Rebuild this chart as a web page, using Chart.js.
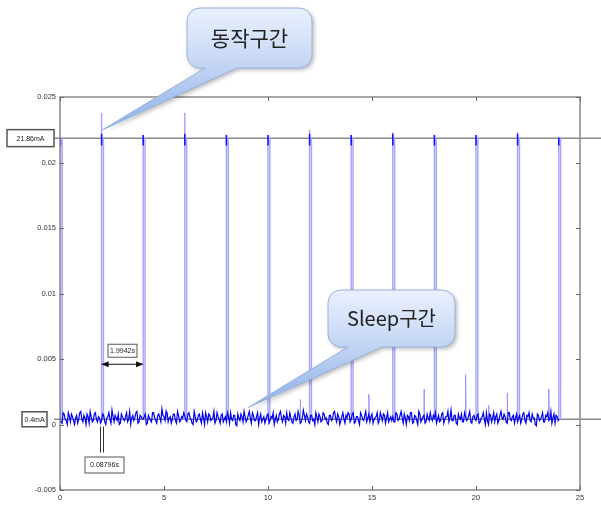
<!DOCTYPE html>
<html>
<head>
<meta charset="utf-8">
<script src="https://cdn.jsdelivr.net/npm/chart.js@4.4.1/dist/chart.umd.min.js"></script>
<style>
  html, body { margin: 0; padding: 0; background: #fff; }
  canvas { display: block; }
</style>
</head>
<body>
<canvas id="c" width="601" height="506"></canvas>
<script>
// 동작 구간 (spike) 시각, 피크 전류 (mA)
const spikeTimes = [0.02, 2, 4, 6, 8, 10, 12, 14, 16, 18, 20, 22, 23.98];
const spikePeaks = [21.9, 23.8, 22.1, 23.8, 22.1, 22.1, 22.5, 22.1, 22.3, 22.1, 22.1, 22.3, 21.9];
const activeLevel = 21.86;   // mA
const sleepLevel = 0.4;      // mA
const activeWidth = 0.08796; // s
const period = 1.9942;       // s

// sleep 구간 잡음 (mA), 0.1s 간격 (A) + 0.05s 어긋난 샘플 (B)
const noiseStep = 0.1;
const sleepNoiseA = [
  0.5,0.1,0.8,0.3,0.9,0.2,0.6,0.0,0.7,0.4,1.0,0.2,0.5,0.8,0.1,0.6,0.3,0.9,0.2,0.5,
  0.3,0.7,0.0,0.6,0.4,1.1,0.2,0.5,0.8,0.1,0.6,0.3,0.9,0.4,0.0,0.7,0.5,1.0,0.2,0.6,
  0.4,0.8,0.1,0.5,0.2,0.9,0.3,0.7,0.5,1.2,0.6,1.0,0.2,0.6,0.4,0.8,0.1,0.7,0.3,0.5,
  0.7,0.2,0.9,0.4,0.0,0.6,0.3,0.8,0.1,0.5,0.9,0.2,0.7,0.4,1.0,0.3,0.6,0.1,0.8,0.4,
  0.2,0.6,0.9,0.3,0.7,-0.1,0.5,0.8,0.2,0.6,0.4,1.0,0.1,0.7,0.3,0.9,0.5,0.2,0.6,0.4,
  0.8,0.3,0.5,0.0,0.7,0.4,1.0,0.2,0.6,0.9,0.3,0.5,0.1,0.8,0.4,0.7,0.2,1.1,0.3,0.6,
  0.1,0.7,0.4,0.9,0.2,0.6,0.3,0.8,0.5,0.0,0.7,0.4,1.0,0.2,0.6,0.3,0.9,0.1,0.5,0.8,
  0.4,0.9,0.2,0.6,0.0,0.7,0.3,1.0,0.5,0.2,0.8,0.4,0.6,0.1,0.9,0.3,0.7,0.5,0.2,0.6,
  0.6,0.2,0.8,0.4,1.0,0.1,0.5,0.7,0.3,0.9,0.2,0.6,0.0,0.8,0.4,0.7,0.2,0.5,0.9,0.3,
  0.5,0.1,0.7,0.3,0.9,0.4,0.6,0.2,1.1,0.3,0.7,0.0,0.5,0.8,0.2,0.6,0.4,1.0,0.1,0.7,
  0.3,0.8,0.2,0.6,0.4,0.9,0.0,0.7,0.5,0.2,0.8,0.3,1.0,0.4,0.6,0.1,0.9,0.3,0.7,0.5,
  0.2,0.7,0.4,0.9,0.1,0.6,0.3,0.8,0.5,-0.1,0.7,0.4,0.9,0.2,0.6,0.3,1.0,0.5,0.1,0.6,
  0.4
];
const sleepNoiseB = [
  0.2,0.9,0.4,0.0,0.6,0.8,0.3,0.5,0.1,0.9,0.4,0.7,0.0,0.6,1.0,0.2,0.8,0.4,0.6,0.1,
  0.8,0.2,0.5,0.9,0.1,0.6,0.7,0.3,0.0,0.8,0.4,0.6,0.2,1.0,0.5,0.3,0.9,0.1,0.7,0.4,
  0.6,0.0,0.7,0.3,0.9,0.5,0.1,0.8,0.2,0.7,0.3,0.9,0.5,0.1,0.8,0.3,1.0,0.2,0.6,0.9,
  0.3,0.8,0.5,0.1,1.0,0.2,0.7,0.4,0.9,0.0,0.6,0.8,0.3,0.5,0.1,0.9,0.4,0.7,0.2,0.6,
  0.9,0.1,0.4,0.7,0.0,0.8,0.3,0.6,1.0,0.2,0.7,0.5,0.9,0.3,0.6,0.0,0.8,0.4,0.1,0.7,
  0.1,0.6,0.9,0.4,0.2,0.8,0.5,0.7,0.1,0.4,0.9,0.2,0.6,0.3,1.0,0.1,0.5,0.7,0.8,0.2,
  0.7,0.3,0.0,0.6,0.8,0.2,0.9,0.4,0.1,0.7,0.3,0.9,0.5,0.8,0.0,0.6,0.4,0.7,0.9,0.2,
  0.8,0.1,0.6,0.3,0.9,0.4,0.7,0.2,0.8,0.6,0.1,0.5,0.9,0.3,0.6,0.8,0.1,0.9,0.4,0.3,
  0.2,0.9,0.3,0.7,0.5,0.8,0.0,0.6,0.9,0.1,0.7,0.3,1.0,0.2,0.6,0.1,0.8,0.3,0.5,0.7,
  0.9,0.4,0.2,0.8,0.1,0.6,1.0,0.5,0.3,0.7,0.1,0.8,0.4,0.2,0.9,0.3,0.7,0.2,0.6,0.4,
  0.7,0.1,0.5,0.9,0.0,0.3,0.8,0.2,0.9,0.6,0.1,0.7,0.5,0.8,0.2,0.9,0.4,0.6,0.1,0.8,
  0.5,0.1,0.8,0.3,0.7,0.9,0.2,0.5,0.0,0.8,0.3,0.6,0.2,0.7,0.9,0.4,0.1,0.8,0.7,0.3
];

// sleep 구간 작은 glitch
const glitchTimes = [5.1, 11.55, 14.85, 17.5, 19.5, 20.6, 21.5, 23.5];
const glitchPeaks = [1.2, 1.9, 2.3, 2.7, 3.8, 1.45, 2.4, 2.7];

const mA = (v) => v / 1000;

const noiseData = [];
sleepNoiseA.forEach((v, i) => {
  noiseData.push({ x: +(i * noiseStep).toFixed(2), y: mA(v) });
  if (i < sleepNoiseB.length) noiseData.push({ x: +(i * noiseStep + noiseStep / 2).toFixed(2), y: mA(sleepNoiseB[i]) });
});

const spikeData = [];
const coreData = [];
spikeTimes.forEach((t, i) => {
  spikeData.push({ x: t, y: mA(sleepLevel) }, { x: t, y: mA(spikePeaks[i]) }, { x: t, y: mA(activeLevel) },
    { x: t + activeWidth, y: mA(activeLevel) }, { x: t + activeWidth, y: mA(sleepLevel) },
    { x: t + activeWidth + 0.01, y: null });
  coreData.push({ x: t, y: mA(21.3) }, { x: t, y: mA(Math.min(spikePeaks[i], 22.2)) }, { x: t + 0.01, y: null });
});

const glitchData = [];
glitchTimes.forEach((t, i) => {
  glitchData.push({ x: t, y: mA(sleepLevel) }, { x: t, y: mA(glitchPeaks[i]) },
    { x: t + 0.02, y: mA(sleepLevel) }, { x: t + 0.03, y: null });
});

// 박스 라벨
function labelBox(ctx, text, x, y, w, h, lw) {
  ctx.fillStyle = '#fff';
  ctx.fillRect(x, y, w, h);
  ctx.strokeStyle = '#555';
  ctx.lineWidth = lw;
  ctx.strokeRect(x, y, w, h);
  ctx.fillStyle = '#222';
  ctx.font = '7px "Liberation Sans", Arial, sans-serif';
  ctx.textAlign = 'center';
  ctx.textBaseline = 'middle';
  ctx.fillText(text, x + w / 2, y + h / 2 + 0.5);
}

// 말풍선
function callout(ctx, box, tailL, tailR, tip, text, size) {
  const { x, y, w, h } = box, r = 13, b = y + h;
  ctx.save();
  ctx.beginPath();
  ctx.moveTo(x + r, y);
  ctx.lineTo(x + w - r, y);
  ctx.arcTo(x + w, y, x + w, y + r, r);
  ctx.lineTo(x + w, b - r);
  ctx.arcTo(x + w, b, x + w - r, b, r);
  ctx.lineTo(tailR, b);
  ctx.lineTo(tip.x, tip.y);
  ctx.lineTo(tailL, b);
  ctx.lineTo(x + r, b);
  ctx.arcTo(x, b, x, b - r, r);
  ctx.lineTo(x, y + r);
  ctx.arcTo(x, y, x + r, y, r);
  ctx.closePath();
  const g = ctx.createLinearGradient(0, y, 0, tip.y);
  const f = h / (tip.y - y);
  g.addColorStop(0, '#eaf1fd');
  g.addColorStop(f, '#c2d4f4');
  g.addColorStop(1, '#8eafe7');
  ctx.shadowColor = 'rgba(0,0,0,0.28)';
  ctx.shadowBlur = 4;
  ctx.shadowOffsetX = 2;
  ctx.shadowOffsetY = 2;
  ctx.fillStyle = g;
  ctx.fill();
  ctx.shadowColor = 'transparent';
  ctx.strokeStyle = '#98b2de';
  ctx.lineWidth = 1;
  ctx.stroke();
  ctx.fillStyle = '#222';
  ctx.font = size + 'px "Noto Sans CJK KR", sans-serif';
  ctx.textAlign = 'center';
  ctx.textBaseline = 'middle';
  ctx.fillText(text, x + w / 2, y + h / 2);
  ctx.restore();
}

function arrowHead(ctx, x, y, dir) {
  ctx.beginPath();
  ctx.moveTo(x, y);
  ctx.lineTo(x - dir * 7, y - 3);
  ctx.lineTo(x - dir * 7, y + 3);
  ctx.closePath();
  ctx.fill();
}

const overlay = {
  id: 'overlay',
  beforeDatasetsDraw(chart) {
    const { ctx, scales: { y } } = chart;
    ctx.save();
    ctx.strokeStyle = '#8a8a8a';
    ctx.lineWidth = 1.5;
    [activeLevel, sleepLevel].forEach((v) => {
      const py = y.getPixelForValue(mA(v));
      ctx.beginPath();
      ctx.moveTo(54, py);
      ctx.lineTo(601, py);
      ctx.stroke();
    });
    ctx.restore();
  },
  afterDraw(chart) {
    const { ctx, chartArea: a, scales: { x, y } } = chart;
    ctx.save();
    // 테두리 + 안쪽 눈금
    ctx.strokeStyle = '#8a8a8a';
    ctx.lineWidth = 1.5;
    ctx.strokeRect(a.left, a.top, a.right - a.left, a.bottom - a.top);
    ctx.lineWidth = 1;
    ctx.strokeStyle = '#666';
    x.ticks.forEach((t) => {
      const px = Math.round(x.getPixelForValue(t.value)) + 0.5;
      ctx.beginPath();
      ctx.moveTo(px, a.bottom); ctx.lineTo(px, a.bottom - 4);
      ctx.moveTo(px, a.top); ctx.lineTo(px, a.top + 4);
      ctx.stroke();
    });
    y.ticks.forEach((t) => {
      const py = Math.round(y.getPixelForValue(t.value)) + 0.5;
      ctx.beginPath();
      ctx.moveTo(a.left, py); ctx.lineTo(a.left + 4, py);
      ctx.moveTo(a.right, py); ctx.lineTo(a.right - 4, py);
      ctx.stroke();
    });

    // 기준선 라벨
    const yA = y.getPixelForValue(mA(activeLevel));
    const yS = y.getPixelForValue(mA(sleepLevel));
    labelBox(ctx, '21.86mA', 7, yA - 8.5, 47, 17, 1.5);
    labelBox(ctx, '0.4mA', 22, yS - 7.5, 25, 15, 1.5);

    // 주기 화살표
    const x1 = x.getPixelForValue(spikeTimes[1]);
    const x2 = x.getPixelForValue(spikeTimes[1] + period);
    const ay = y.getPixelForValue(0.0046);
    ctx.strokeStyle = '#111';
    ctx.fillStyle = '#111';
    ctx.lineWidth = 1;
    ctx.beginPath();
    ctx.moveTo(x1, ay); ctx.lineTo(x2, ay);
    ctx.stroke();
    arrowHead(ctx, x1, ay, -1);
    arrowHead(ctx, x2, ay, 1);
    labelBox(ctx, '1.9942s', 108, ay - 20, 29, 13, 1);

    // 동작 폭 표시
    const w1 = Math.round(x.getPixelForValue(spikeTimes[1])) - 1.5;
    const w2 = Math.round(x.getPixelForValue(spikeTimes[1] + activeWidth)) + 0.5;
    const y0 = y.getPixelForValue(0);
    ctx.strokeStyle = '#333';
    ctx.beginPath();
    ctx.moveTo(w1, y0 + 2); ctx.lineTo(w1, y0 + 28);
    ctx.moveTo(w2, y0 + 2); ctx.lineTo(w2, y0 + 28);
    ctx.stroke();
    labelBox(ctx, '0.08796s', 85, 457, 39, 16, 1);

    // 말풍선
    callout(ctx, { x: 187, y: 8, w: 125, h: 60 }, 205, 237,
      { x: x.getPixelForValue(2.05), y: y.getPixelForValue(0.0225) }, '동작구간', 21);
    callout(ctx, { x: 328, y: 290, w: 127, h: 57 }, 348, 382,
      { x: x.getPixelForValue(9.05), y: y.getPixelForValue(0.0013) }, 'Sleep구간', 20);
    ctx.restore();
  },
};

new Chart(document.getElementById('c'), {
  type: 'line',
  data: {
    datasets: [
      { data: noiseData, borderColor: '#0000f0', borderWidth: 1.2, order: 0 },
      { data: coreData, borderColor: '#1010ff', borderWidth: 1.5, order: 1 },
      { data: glitchData, borderColor: '#9494ff', borderWidth: 1, order: 2 },
      { data: spikeData, borderColor: '#a8a8ff', borderWidth: 1.5, order: 3 },
    ],
  },
  options: {
    responsive: false,
    animation: false,
    devicePixelRatio: 1,
    layout: { padding: { top: 97, right: 21, bottom: 0, left: 0 } },
    elements: { point: { radius: 0 }, line: { tension: 0 } },
    datasets: { line: { spanGaps: false } },
    plugins: { legend: { display: false }, tooltip: { enabled: false } },
    scales: {
      x: {
        type: 'linear', min: 0, max: 25,
        grid: { display: false, drawTicks: false }, border: { display: false },
        ticks: { stepSize: 5, color: '#333', padding: 3, font: { size: 7.5, family: '"Liberation Sans", Arial' } },
        afterFit: (s) => { s.height = 16; },
      },
      y: {
        min: -0.005, max: 0.025,
        grid: { display: false, drawTicks: false }, border: { display: false },
        ticks: {
          stepSize: 0.005, color: '#333', padding: 4,
          font: { size: 7.5, family: '"Liberation Sans", Arial' },
          callback: (v) => String(Number(v.toFixed(3))),
        },
        afterFit: (s) => { s.width = 60; },
      },
    },
  },
  plugins: [overlay],
});
</script>
</body>
</html>
